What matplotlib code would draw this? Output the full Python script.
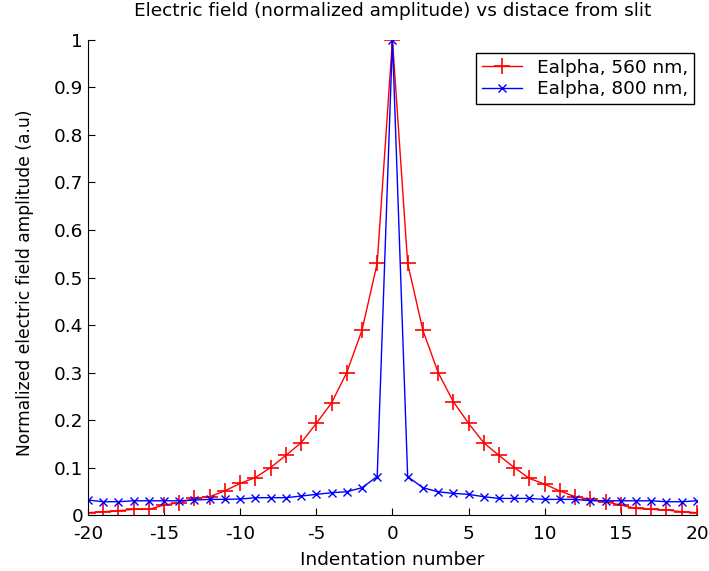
import matplotlib.pyplot as plt
import numpy as np

plt.rcParams['font.family'] = ['DejaVu Sans']
plt.rcParams['axes.unicode_minus'] = False

# indentation numbers
idx = np.arange(-20, 21)

# normalized field amplitude, 560 nm (x = -20 .. 20)
e560 = [0.005, 0.007, 0.009, 0.012, 0.012, 0.021, 0.026, 0.035, 0.0386, 0.051,
        0.0667, 0.079, 0.100, 0.1255, 0.152, 0.193, 0.236, 0.300, 0.389, 0.530,
        1.0,
        0.530, 0.389, 0.300, 0.2386, 0.193, 0.152, 0.1255, 0.100, 0.077, 0.065,
        0.0505, 0.0386, 0.033, 0.028, 0.021, 0.014, 0.012, 0.0105, 0.007, 0.005]

# normalized field amplitude, 800 nm
e800 = [0.0316, 0.028, 0.028, 0.030, 0.030, 0.030, 0.030, 0.0316, 0.033, 0.033,
        0.0337, 0.0365, 0.0365, 0.0365, 0.040, 0.0435, 0.047, 0.049, 0.0575, 0.081,
        1.0,
        0.081, 0.0575, 0.049, 0.0456, 0.0435, 0.0386, 0.035, 0.035, 0.035, 0.033,
        0.033, 0.033, 0.030, 0.030, 0.030, 0.030, 0.030, 0.028, 0.028, 0.030]

fs = 13.3

fig = plt.figure(figsize=(7.09, 5.71), dpi=100)
ax = fig.add_axes([0.124, 0.098, 0.859, 0.832])

ax.plot(idx, e560, color='red', marker='+', markersize=11, markeredgewidth=1.2,
        linewidth=1, label='Ealpha, 560 nm,')
ax.plot(idx, e800, color='blue', marker='x', markersize=6, markeredgewidth=1,
        linewidth=1, label='Ealpha, 800 nm,')

ax.set_xlim(-20, 20)
ax.set_ylim(0, 1)
ax.set_xticks(np.arange(-20, 21, 5))
ax.set_yticks(np.arange(0, 1.01, 0.1))
ax.set_yticklabels(['0', '0.1', '0.2', '0.3', '0.4', '0.5', '0.6', '0.7', '0.8', '0.9', '1'])
ax.tick_params(direction='in', labelsize=fs, length=5)
ax.tick_params(axis='x', pad=7)
ax.spines['top'].set_visible(False)
ax.spines['right'].set_visible(False)

ax.set_title('Electric field (normalized amplitude) vs distace from slit', fontsize=fs, pad=17)
ax.set_xlabel('Indentation number', fontsize=fs, labelpad=6)
ax.set_ylabel('Normalized electric field amplitude (a.u)', fontsize=12.3)
ax.yaxis.set_label_coords(-0.089, 0.49)

leg = fig.legend(loc='upper left', bbox_to_anchor=(476 / 709, 1 - 53 / 571),
                 fontsize=fs, fancybox=False, edgecolor='black', framealpha=1,
                 borderaxespad=0, handlelength=2.2, borderpad=0.3, labelspacing=0.2)
leg.get_frame().set_linewidth(1)

fig.savefig('out.png', dpi=100)
